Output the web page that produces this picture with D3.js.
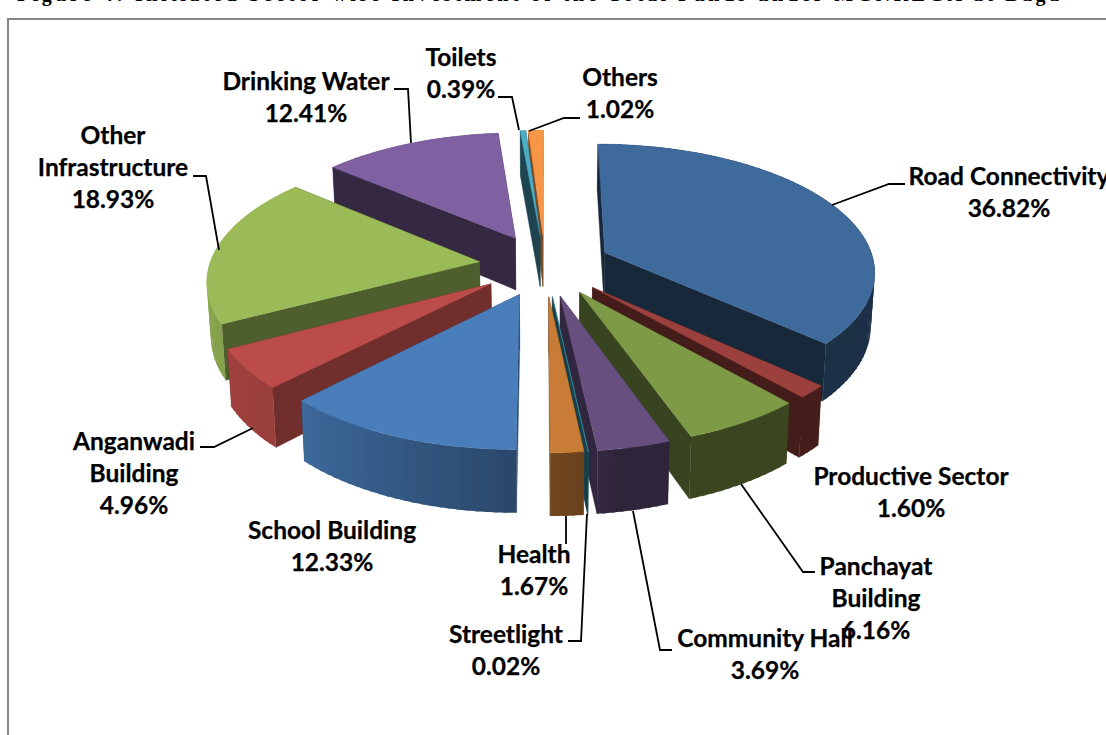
<!DOCTYPE html>
<html><head><meta charset="utf-8">
<script src="https://cdnjs.cloudflare.com/ajax/libs/d3/7.8.5/d3.min.js"></script>
<style>html,body{margin:0;padding:0;background:#fff;overflow:hidden}svg{display:block}</style>
</head><body><svg id="c" width="1106" height="735"></svg>
<script>
// ---- data ----
const categories = ["Road Connectivity","Productive Sector","Panchayat Building","Community Hall","Streetlight","Health","School Building","Anganwadi Building","Other Infrastructure","Drinking Water","Toilets","Others"];
const shares = [36.82,1.60,6.16,3.69,0.02,1.67,12.33,4.96,18.93,12.41,0.39,1.02];
const topColors = ["#3f6a9c","#9b403c","#7f9a47","#67507f","#3ba0b8","#c97c35","#4a7ebb","#bb4c49","#9bbb59","#7f60a0","#4bacc6","#f79646"];
const labelLines = [["Road Connectivity","36.82%"],["Productive Sector","1.60%"],["Panchayat","Building","6.16%"],["Community Hall","3.69%"],["Streetlight","0.02%"],["Health","1.67%"],["School Building","12.33%"],["Anganwadi","Building","4.96%"],["Other","Infrastructure","18.93%"],["Drinking Water","12.41%"],["Toilets","0.39%"],["Others","1.02%"]];
const labelCenterX = [1009,911,876,765,506,534,332,134,113,306,461,620];
const labelFirstY = [176,476,566,638,634,554,530,441,135,81,57,77];
const leaders = [
 [[832,205],[889,184],[905,184]], null,
 [[741,484],[803,572],[815,572]],
 [[633,511],[660,650],[672,650]],
 [[587,514],[581,641],[568,641]],
 [[566,516],[566,544]], null,
 [[253,428],[214,447],[200,447]],
 [[219,250],[206,176],[193,176]],
 [[411,143],[408,89],[394,89]],
 [[519,130],[512,97],[498,97]],
 [[529,131],[564,118],[580,118]]
];
const titleText = "Figure 4: Initiated Sector wise Investment of the Total Funds under MGNREGA at Baga";

// ---- projection of the tilted pie ----
const W=1106,H=735,cx=545,cy=265,sx=270,sy=126,k=0.132,explode=0.245,depth=53;
function project(X,Y,z){ // X right, Y back, z down
  const w=1+k*Y, f=1-0.012*z/depth;
  return [cx+(X*sx/w)*f, cy-(Y*sy/w)+z/w];
}
const svg=d3.select("#c");
const slices=d3.pie().sort(null).value(d=>d)(shares);
const shade=(col,s)=>d3.interpolateRgb("#000",col)(s);
const line=d3.line();
function wallShade(a){ // outer-wall brightness by facing angle (radians, clockwise from back)
  const deg=a*180/Math.PI;
  return d3.scaleLinear().domain([0,170,176,182,222,245,275,360]).range([.42,.46,.54,.58,.82,.86,.9,.9]).clamp(true)(deg);
}
const innerShade=[.38,.44,.44,.48,.4,.55,.58,.6,.5,.42,.4,.5];

const order=slices.map((s,i)=>i).sort((a,b)=>{
  const m=s=>(s.startAngle+s.endAngle)/2;
  return -Math.cos(m(slices[a]))- -Math.cos(m(slices[b]));
});
const g=svg.append("g");
order.forEach(i=>{
  const s=slices[i], col=topColors[i], mid=(s.startAngle+s.endAngle)/2;
  const ox=explode*Math.sin(mid), oy=explode*Math.cos(mid);
  const P=(r,a,z)=>project(ox+r*Math.sin(a),oy+r*Math.cos(a),z);
  const sl=g.append("g").attr("data-cat",categories[i]);
  const flat=(pts,fill)=>sl.append("path").attr("d",line(pts)+"Z").attr("fill",fill).attr("stroke",fill).attr("stroke-width",.4);
  const n=Math.max(1,Math.ceil((s.endAngle-s.startAngle)/0.03));
  const wall=(front)=>d3.range(n).forEach(j=>{
    const a0=s.startAngle+(s.endAngle-s.startAngle)*j/n, a1=s.startAngle+(s.endAngle-s.startAngle)*(j+1)/n;
    if((Math.cos((a0+a1)/2)<0.15)!==front) return;   // strips facing the back are hidden
    const a2=j<n-1?a1+0.012:a1;
    const c=shade(col,wallShade((a0+a1)/2));
    sl.append("path").attr("d",line([P(1,a0,0),P(1,a2,0),P(1,a2,depth),P(1,a0,depth)])+"Z").attr("fill",c);
  });
  wall(false);
  // radial walls
  const ic=shade(col,innerShade[i]);
  [s.startAngle,s.endAngle].forEach(a=>flat([P(0,a,0),P(1,a,0),P(1,a,depth),P(0,a,depth)],ic));
  wall(true);
  // top
  const pts=[P(0,s.startAngle,0)].concat(d3.range(n+1).map(j=>P(1,s.startAngle+(s.endAngle-s.startAngle)*j/n,0)));
  flat(pts,col);
});

// frame
svg.append("path").attr("d",`M8 ${H}V19H${W}`).attr("fill","none").attr("stroke","#868686").attr("stroke-width",2);
// clipped title
svg.append("text").text(titleText).attr("x",17).attr("y",1).attr("font-family","Liberation Serif").attr("font-weight","bold").attr("font-size",20).attr("textLength",1042).attr("lengthAdjust","spacing").attr("fill","#000");

// leaders
leaders.forEach(l=>{ if(l) svg.append("path").attr("d",line(l)).attr("fill","none").attr("stroke","#000").attr("stroke-width",1.8);});
// labels
labelLines.forEach((ls,i)=>{
  ls.forEach((t,j)=>svg.append("text").text(t).attr("x",labelCenterX[i]).attr("y",labelFirstY[i]+j*32).attr("dy","0.35em")
    .attr("text-anchor","middle").attr("font-family","Lato, Carlito").attr("font-weight","bold").attr("font-size",24.5).attr("fill","#000").attr("stroke","#000").attr("stroke-width",.25));
});
</script></body></html>
